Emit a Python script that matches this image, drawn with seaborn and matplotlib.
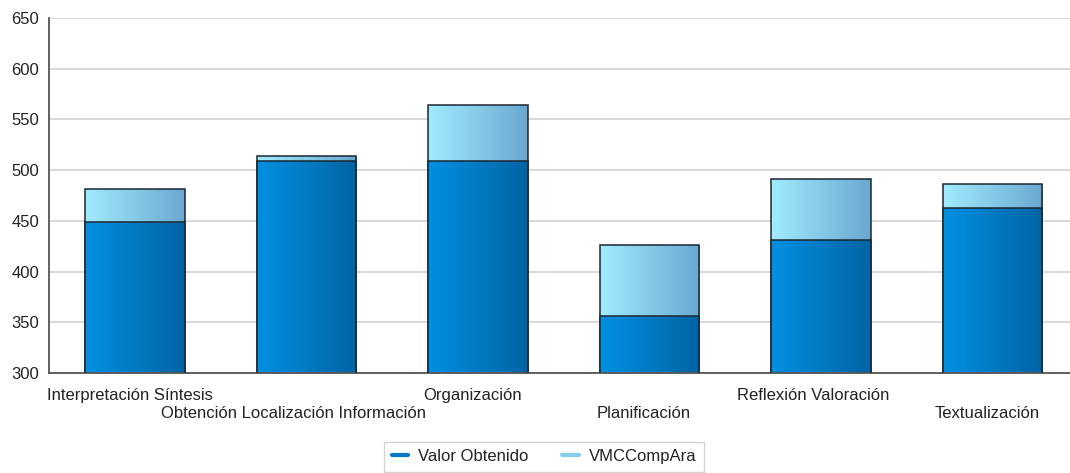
import numpy as np
import pandas as pd
import matplotlib
matplotlib.use("Agg")
import matplotlib.pyplot as plt
import seaborn as sns
from matplotlib.colors import LinearSegmentedColormap
from matplotlib.lines import Line2D
from matplotlib.transforms import ScaledTranslation

# Datos del gráfico
categorias = ["Interpretación Síntesis", "Obtención Localización Información",
              "Organización", "Planificación", "Reflexión Valoración",
              "Textualización"]
valor_obtenido = [449, 509, 509, 356, 431, 463]
vmc_compara = [481, 514, 564, 426, 491, 486]

df = pd.DataFrame({"Categoria": categorias,
                   "Valor Obtenido": valor_obtenido,
                   "VMCCompAra": vmc_compara})

sns.set_style("white")
plt.rcParams["font.family"] = ["Liberation Sans", "DejaVu Sans"]
plt.rcParams["font.size"] = 12

fig = plt.figure(figsize=(10.7, 4.73), dpi=100)
ax = fig.add_axes([49 / 1070, 100 / 473, 1 - 49 / 1070, 355 / 473])

ymin, ymax = 300, 650
ancho = 0.58
sns.barplot(data=df, x="Categoria", y="VMCCompAra", order=categorias,
            color="#88d0ee", width=ancho, ax=ax, errorbar=None)
n_light = len(ax.patches)
sns.barplot(data=df, x="Categoria", y="Valor Obtenido", order=categorias,
            color="#0080d0", width=ancho, ax=ax, errorbar=None)

# degradados horizontales dentro de cada barra
cmap_light = LinearSegmentedColormap.from_list("l", ["#a0ecff", "#6aa8d0"])
cmap_dark = LinearSegmentedColormap.from_list("d", ["#0090e2", "#0064a4"])
grad = np.linspace(0, 1, 256).reshape(1, -1)
for i, p in enumerate(list(ax.patches)):
    cmap = cmap_light if i < n_light else cmap_dark
    x0, y0 = p.get_x(), p.get_y()
    w, h = p.get_width(), p.get_height()
    im = ax.imshow(grad, cmap=cmap, aspect="auto",
                   extent=[x0, x0 + w, max(y0, ymin), y0 + h],
                   zorder=2 + (i >= n_light) * 0.5, interpolation="bicubic")
    im.set_clip_path(p)
    p.set_facecolor("none")
    p.set_edgecolor("#1c2630")
    p.set_linewidth(1.1)
    p.set_zorder(2.2 + (i >= n_light) * 0.5)

ax.set_ylim(ymin, ymax)
ax.set_xlim(-0.5, (1070 - 135.5) / 171.4)
ax.set_yticks(range(300, 651, 50))
ax.yaxis.grid(True, color="#d6d6d6", linewidth=1.3)
ax.set_axisbelow(True)

ax.set_xticks(range(len(categorias)))
ax.set_xticklabels(categorias, va="top")
ax.tick_params(axis="x", length=0, pad=11, colors="#222222")
ax.tick_params(axis="y", length=0, pad=7, colors="#222222")
# etiquetas alternadas en dos alturas, un poco a la izquierda
desplaz = [-5, -13, -5, -6, -8, -5]
for i, t in enumerate(ax.get_xticklabels()):
    if i % 2 == 1:
        t.set_y(-0.051)
    t.set_transform(t.get_transform() +
                    ScaledTranslation(desplaz[i] / 100, 0, fig.dpi_scale_trans))
ax.set_xlabel("")
ax.set_ylabel("")

for s in ["top", "right"]:
    ax.spines[s].set_visible(False)
for s in ["left", "bottom"]:
    ax.spines[s].set_color("#555555")
    ax.spines[s].set_linewidth(1.3)

handles = [Line2D([], [], color="#0078c4", lw=3),
           Line2D([], [], color="#84cdef", lw=3)]
fig.legend(handles, ["Valor Obtenido", "VMCCompAra"], ncol=2,
           loc="center", bbox_to_anchor=(544 / 1070, 16.5 / 473),
           frameon=True, fancybox=False, edgecolor="#c8c8c8",
           handlelength=1.0, columnspacing=2.0, handletextpad=0.6,
           borderpad=0.45, borderaxespad=0, labelcolor="#222222")

fig.savefig("out.png", dpi=100)
